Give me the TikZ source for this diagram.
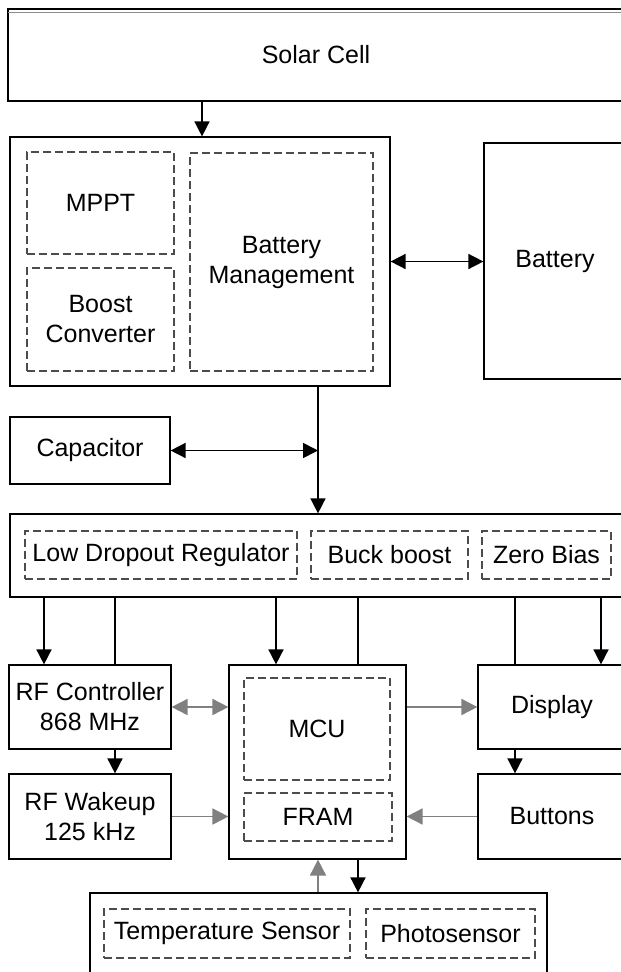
\documentclass[tikz,border=0pt]{standalone}
\usepackage{fontspec}
\setmainfont{Liberation Sans}
\usetikzlibrary{arrows.meta}
\tikzset{
  box/.style={draw=black, line width=1.2pt, fill=white, inner sep=0pt, align=center,
              font=\fontsize{25}{30}\selectfont},
  sub/.style={draw=black!70, line width=1.1pt, dash pattern=on 8pt off 4pt, inner sep=0pt,
              align=center, font=\fontsize{25}{30}\selectfont},
  arr/.style={draw=black, line width=1.6pt, -{Triangle[length=15pt,width=15pt]}},
  darr/.style={draw=black, line width=1.6pt, {Triangle[length=15pt,width=15pt]}-{Triangle[length=15pt,width=15pt]}},
  wire/.style={draw=black, line width=1.6pt},
  garr/.style={draw=black!50, line width=1.8pt, -{Triangle[length=16pt,width=16pt]}},
  gdarr/.style={draw=black!50, line width=1.8pt, {Triangle[length=16pt,width=16pt]}-{Triangle[length=16pt,width=16pt]}},
}
\begin{document}
\begin{tikzpicture}[x=1pt, y=-1pt]
\useasboundingbox (0,0) rectangle (621,972);
\clip (0,0) rectangle (621,972);
\fill[white] (0,0) rectangle (621,972);

% supply
\node[box, line width=2pt, minimum width=616pt, minimum height=92pt] (solar) at (316,55) {Solar Cell};
\draw[black!45, line width=1pt] (solar.north west) ++(1,4) coordinate (sl) -- (sl -| solar.east);

% power management block
\node[box, minimum width=380pt, minimum height=249pt] (power) at (200,261.5) {};
\node[sub, minimum width=147pt, minimum height=102pt] (mppt) at (100.5,203) {MPPT};
\node[sub, minimum width=147pt, minimum height=103pt] (boost) at (100.5,319.5) {Boost\\Converter};
\node[sub, minimum width=183pt, minimum height=218pt] (bms) at (281.5,262) {Battery\\Management};
\node[box, minimum width=142pt, minimum height=236pt] (battery) at (555,261) {Battery};

\node[box, minimum width=160pt, minimum height=67pt] (cap) at (90,450.5) {Capacitor};

% regulators
\node[box, minimum width=622pt, minimum height=83pt] (reg) at (321,555.5) {};
\node[sub, minimum width=272pt, minimum height=48pt] (ldo) at (161,555) {Low Dropout Regulator};
\node[sub, minimum width=157pt, minimum height=48pt] (buck) at (389.5,555) {Buck boost};
\node[sub, minimum width=129pt, minimum height=48pt] (zero) at (546.5,555) {Zero Bias};

% loads
\node[box, minimum width=162pt, minimum height=84pt] (rfc) at (90,707) {RF Controller\\868 MHz};
\node[box, minimum width=162pt, minimum height=85pt] (rfw) at (90,816.5) {RF Wakeup\\125 kHz};
\node[box, minimum width=177pt, minimum height=194pt] (mcu) at (317.5,762) {};
\node[sub, minimum width=146pt, minimum height=102pt] (core) at (317,729) {MCU};
\node[sub, minimum width=148pt, minimum height=48pt] (fram) at (318,817) {FRAM};
\node[box, minimum width=148pt, minimum height=84pt] (disp) at (552,707) {Display};
\node[box, minimum width=148pt, minimum height=85pt] (btn) at (552,816.5) {Buttons};

% sensors
\node[box, minimum width=457pt, minimum height=81pt] (sens) at (318.5,933.5) {};
\node[sub, minimum width=246pt, minimum height=49pt] (temp) at (227,933.5) {Temperature Sensor};
\node[sub, minimum width=169pt, minimum height=49pt] (photo) at (450.5,933.5) {Photosensor};

% vertical rails
\coordinate (xs) at (202,0);
\coordinate (xt) at (318,0);
\coordinate (xa) at (44,0);
\coordinate (xb) at (115,0);
\coordinate (xc) at (276,0);
\coordinate (xd) at (358,0);
\coordinate (xe) at (515,0);
\coordinate (xf) at (601,0);

% power path
\draw[arr] (solar.south -| xs) -- (power.north -| xs);
\draw[darr] (power.east) -- (power.east -| battery.west);
\draw[arr] (power.south -| xt) -- (reg.north -| xt);
\draw[darr] (cap.east) -- (cap.east -| xt);

% supply rails to the loads
\draw[arr] (reg.south -| xa) -- (rfc.north -| xa);
\draw[wire] (reg.south -| xb) -- (rfc.north -| xb);
\draw[arr] (rfc.south -| xb) -- (rfw.north -| xb);
\draw[arr] (reg.south -| xc) -- (mcu.north -| xc);
\draw[wire] (reg.south -| xd) -- (mcu.north -| xd);
\draw[wire] (reg.south -| xe) -- (disp.north -| xe);
\draw[arr] (reg.south -| xf) -- (disp.north -| xf);
\draw[arr] (disp.south -| xe) -- (btn.north -| xe);
\draw[arr] (mcu.south -| xd) -- (sens.north -| xd);

% signal paths
\draw[gdarr] (rfc.east) -- (rfc.east -| mcu.west);
\draw[garr] (mcu.east |- disp.west) -- (disp.west);
\draw[garr] (rfw.east) -- (rfw.east -| mcu.west);
\draw[garr] (btn.west) -- (btn.west -| mcu.east);
\draw[garr] (sens.north -| xt) -- (mcu.south -| xt);
\end{tikzpicture}
\end{document}
